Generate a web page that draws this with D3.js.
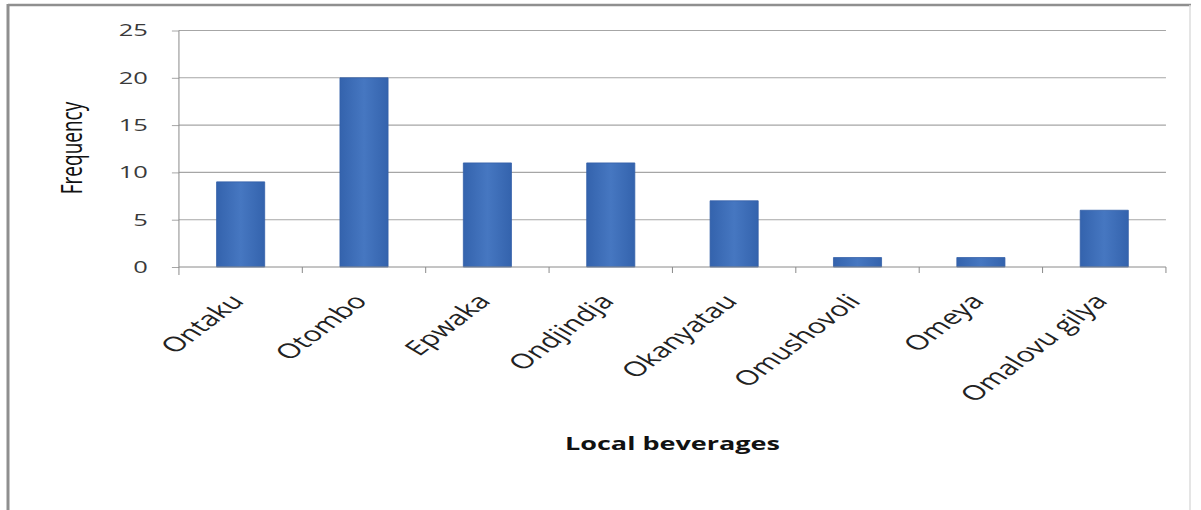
<!DOCTYPE html>
<html>
<head>
<meta charset="utf-8">
<script src="https://cdn.jsdelivr.net/npm/d3@7"></script>
<style>
  html, body { margin: 0; padding: 0; background: #fff; }
  svg { display: block; }
</style>
</head>
<body>
<script>
// Frequency of local beverages
const categories = ["Ontaku", "Otombo", "Epwaka", "Ondjindja", "Okanyatau", "Omushovoli", "Omeya", "Omalovu gilya"];
const frequency = [9, 20, 11, 11, 7, 1, 1, 6];
const yTicks = [0, 5, 10, 15, 20, 25];

const W = 1201, H = 510;
const sx = 1.5; // the chart is drawn wide: horizontal stretch of the whole drawing

const svg = d3.select("body").append("svg")
  .attr("width", W).attr("height", H);

svg.append("rect").attr("width", W).attr("height", H).attr("fill", "#fff");

// outer chart frame
svg.append("line").attr("x1", 8).attr("x2", 1191).attr("y1", 5).attr("y2", 5)
  .attr("stroke", "#8f8f8f").attr("stroke-width", 2.5);
svg.append("line").attr("x1", 8).attr("x2", 8).attr("y1", 4).attr("y2", H)
  .attr("stroke", "#8f8f8f").attr("stroke-width", 3);
svg.append("line").attr("x1", 1190).attr("x2", 1190).attr("y1", 5).attr("y2", H)
  .attr("stroke", "#dcdcdc").attr("stroke-width", 1.5);

const g = svg.append("g").attr("transform", `scale(${sx},1)`);

const plotLeft = 119.3, plotRight = 777.3, plotTop = 30.5, plotBottom = 267;

const x = d3.scaleBand().domain(categories)
  .range([plotLeft, plotRight]).paddingInner(0.61).paddingOuter(0.305);
const y = d3.scaleLinear().domain([0, 25]).range([plotBottom, plotTop]);

// horizontal gridlines
g.append("g").selectAll("line").data(yTicks.filter(d => d > 0)).join("line")
  .attr("x1", plotLeft).attr("x2", plotRight)
  .attr("y1", d => y(d)).attr("y2", d => y(d))
  .attr("stroke", "#a6a6a6").attr("stroke-width", 1.1)
  .attr("vector-effect", "non-scaling-stroke");

// bar gradient
const defs = svg.append("defs");
const grad = defs.append("linearGradient").attr("id", "barFill")
  .attr("x1", "0%").attr("x2", "100%").attr("y1", "0%").attr("y2", "0%");
grad.append("stop").attr("offset", "0%").attr("stop-color", "#3463ad");
grad.append("stop").attr("offset", "50%").attr("stop-color", "#4677c1");
grad.append("stop").attr("offset", "100%").attr("stop-color", "#3463ad");

g.append("g").selectAll("rect").data(frequency).join("rect")
  .attr("x", (d, i) => x(categories[i]))
  .attr("width", x.bandwidth())
  .attr("y", d => y(d))
  .attr("height", d => y(0) - y(d))
  .attr("fill", "url(#barFill)")
  .attr("stroke", "#3360a8").attr("stroke-width", 0.8)
  .attr("vector-effect", "non-scaling-stroke");

// y axis
const yAxis = d3.axisLeft(y).tickValues(yTicks).tickSize(4.7).tickPadding(16);
const ya = g.append("g").attr("transform", `translate(${plotLeft},0)`).call(yAxis);
ya.select(".domain").remove();
ya.append("line").attr("x1", 0).attr("x2", 0).attr("y1", plotTop).attr("y2", plotBottom + 8)
  .attr("stroke", "#8a8a8a").attr("vector-effect", "non-scaling-stroke");
ya.selectAll(".tick line").attr("stroke", "#a6a6a6").attr("vector-effect", "non-scaling-stroke");
ya.selectAll(".tick text")
  .attr("font-family", "'Open Sans', sans-serif").attr("font-size", 17)
  .attr("fill", "#3a3a3a");

// x axis: line at zero with ticks between categories
const xa = g.append("g");
xa.append("line").attr("x1", plotLeft).attr("x2", plotRight).attr("y1", y(0)).attr("y2", y(0))
  .attr("stroke", "#8a8a8a").attr("vector-effect", "non-scaling-stroke");
xa.selectAll("line.tk").data(d3.range(1, categories.length + 1)).join("line")
  .attr("class", "tk")
  .attr("x1", i => plotLeft + i * x.step()).attr("x2", i => plotLeft + i * x.step())
  .attr("y1", y(0)).attr("y2", y(0) + 6)
  .attr("stroke", "#8a8a8a").attr("vector-effect", "non-scaling-stroke");

xa.selectAll("text").data(categories).join("text")
  .attr("transform", d => `translate(${x(d) + x.bandwidth() / 2 + 3},${y(0) + 35}) rotate(-48.5)`)
  .attr("text-anchor", "end")
  .attr("font-family", "'Open Sans', sans-serif").attr("font-size", 20.5)
  .attr("fill", "#222")
  .text(d => d);

// axis titles
g.append("text")
  .attr("transform", `translate(54.7,148) rotate(-90)`)
  .attr("text-anchor", "middle")
  .attr("font-family", "'Open Sans', sans-serif").attr("font-size", 19)
  .attr("fill", "#111")
  .text("Frequency");

g.append("text")
  .attr("x", (plotLeft + plotRight) / 2).attr("y", 450)
  .attr("text-anchor", "middle")
  .attr("font-family", "'Open Sans', sans-serif").attr("font-size", 18)
  .attr("font-weight", "bold").attr("fill", "#111")
  .text("Local beverages");
</script>
</body>
</html>
